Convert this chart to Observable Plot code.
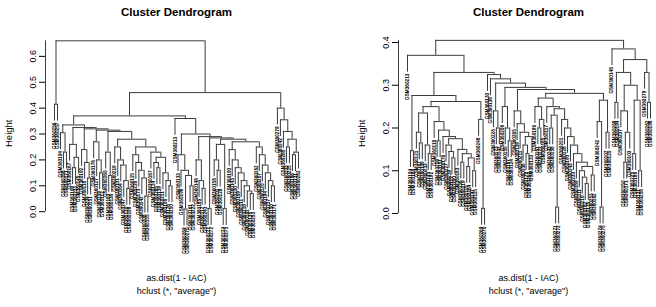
<!DOCTYPE html>
<html><head><meta charset="utf-8">
<script src="https://cdn.jsdelivr.net/npm/d3@7"></script>
<script src="https://cdn.jsdelivr.net/npm/@observablehq/plot@0.6"></script>
<style>
body{margin:0;background:#fff;}
#wrap{display:flex;width:656px;height:307px;overflow:hidden;}
svg{display:block;overflow:visible}
</style></head><body><div id="wrap"></div>
<script>
// ---- data: leaf labels (in dendrogram order) and merge height between adjacent leaves ----
const leftLabels = [360256,360257,360104,360188,360121,360167,360109,360233,360145,360192,
  360118,360204,360151,360176,360127,360239,360112,360260,360183,360136,
  360219,360101,360164,360247,360130,360198,360115,360226,360173,360142,
  360208,360155,360187,360124,360265,360139,360211,360106,360178,360250,
  360213,360133,360196,360269,360270,360161,360222,360148,360185,360117,
  360243,360271,360272,360158,360201,360128,360274,360275,360190,360143,
  360230,360169,360111,360216,360182,360135,360253,360162,360207,360120,
  360194,360237,360150,360171,360279,360242,360268,360103,360225,360186,
  360131,360262];
const leftGaps = [0.415,0.66,0.305,0.23,0.335,0.26,0.17,0.21,0.325,0.24,
  0.19,0.13,0.32,0.27,0.2,0.15,0.315,0.23,0.14,0.31,
  0.25,0.2,0.18,0.12,0.09,0.28,0.22,0.19,0.16,0.13,
  0.06,0.25,0.23,0.19,0.17,0.21,0.15,0.12,0.10,0.37,
  0.36,0.22,0.16,0.01,0.14,0.10,0.30,0.2,0.12,0.09,
  0.29,0.012,0.285,0.2,0.16,0.26,0.012,0.28,0.24,0.2,
  0.17,0.15,0.12,0.1,0.08,0.07,0.27,0.25,0.22,0.18,
  0.15,0.12,0.1,0.46,0.40,0.355,0.31,0.25,0.28,0.22,
  0.23];
const rightLabels = [360213,360104,360188,360121,360167,360109,360233,360145,360192,360118,
  360204,360151,360176,360127,360239,360112,360260,360183,360136,360219,
  360101,360164,360247,360115,360248,360269,360270,360130,360138,360226,
  360173,360142,360208,360155,360187,360124,360265,360139,360211,360106,
  360178,360250,360133,360196,360161,360222,360185,360117,360243,360158,
  360271,360272,360201,360128,360190,360143,360230,360169,360111,360216,
  360182,360135,360253,360162,360242,360274,360275,360207,360120,360148,
  360268,360194,360237,360150,360171,360103,360225,360186,360131,360256,
  360279,360262,360198];
const rightGaps = [0.37,0.147,0.276,0.19,0.165,0.235,0.16,0.14,0.25,0.215,
  0.17,0.195,0.18,0.16,0.145,0.13,0.175,0.15,0.12,0.14,
  0.11,0.13,0.10,0.262,0.22,0.012,0.33,0.325,0.315,0.24,
  0.2,0.305,0.25,0.2,0.17,0.295,0.24,0.21,0.19,0.16,
  0.14,0.18,0.29,0.25,0.2,0.22,0.27,0.25,0.20,0.23,
  0.015,0.245,0.22,0.20,0.18,0.16,0.14,0.12,0.10,0.085,
  0.07,0.11,0.09,0.281,0.215,0.015,0.265,0.19,0.405,0.385,
  0.26,0.33,0.24,0.12,0.19,0.30,0.14,0.265,0.1,0.36,
  0.33,0.26];
const leftTicks = [0, 0.1, 0.2, 0.3, 0.4, 0.5, 0.6];
const rightTicks = [0, 0.1, 0.2, 0.3, 0.4];
const titleText = "Cluster Dendrogram";
const xLabelText = "as.dist(1 - IAC)";
const subText = 'hclust (*, "average")';
const yLabelText = "Height";

function layout(labels, gaps) {
  const hang = 0.1 * (d3.max(gaps) - d3.min(gaps));
  const horiz = [], vert = [], leaves = [];
  function build(lo, hi) {
    if (lo === hi) return {leaf: true, x: lo, i: lo};
    let k = lo;
    for (let j = lo + 1; j < hi; j++) if (gaps[j] > gaps[k]) k = j;
    const L = build(lo, k), R = build(k + 1, hi);
    const h = gaps[k];
    horiz.push({x1: L.x, x2: R.x, y: h});
    for (const c of [L, R]) {
      const top = c.leaf ? h - hang : c.h;
      vert.push({x: c.x, y1: top, y2: h});
      if (c.leaf) leaves.push({x: c.x, y: top, label: "GSM" + labels[c.i]});
    }
    return {leaf: false, x: (L.x + R.x) / 2, h};
  }
  const root = build(0, labels.length - 1);
  return {horiz, vert, leaves, root};
}

function panel({labels, gaps, ticks, xr, yr, ml, mr, tdx}) {
  const n = labels.length;
  const {horiz, vert, leaves, root} = layout(labels, gaps);
  const axisX = (ml - xr[0]) / (xr[1] - xr[0]) * (n - 1);
  const line = "#3a3a3a";
  return Plot.plot({
    width: 328, height: 307,
    marginLeft: ml, marginRight: mr, marginTop: 30, marginBottom: 44,
    style: {fontFamily: "'Liberation Sans', Arial, sans-serif", background: "#fff", color: "#000"},
    x: {domain: [0, n - 1], range: xr, axis: null},
    y: {domain: [0, ticks[ticks.length - 1]], range: yr, label: null},
    marks: [
      Plot.ruleX([axisX], {x: d => d, y1: 0, y2: root.h, stroke: line}),
      Plot.axisY(ticks, {tickFormat: d => d.toFixed(1), tickRotate: -90, tickSize: 6, tickPadding: 4, fontSize: 9, label: null}),
      Plot.ruleY(horiz, {x1: "x1", x2: "x2", y: "y", stroke: line, strokeWidth: 1}),
      Plot.ruleX(vert, {x: "x", y1: "y1", y2: "y2", stroke: line, strokeWidth: 1}),
      Plot.text(leaves, {x: "x", y: "y", text: "label", rotate: -90, textAnchor: "end", dy: 1.5, fontSize: 4.7, fontWeight: "bold", fill: "#000"}),
      Plot.text([titleText], {frameAnchor: "top", dx: tdx, dy: -23, fontWeight: "bold", fontSize: 11.5}),
      Plot.text([xLabelText], {frameAnchor: "bottom", dx: tdx, dy: 17.5, fontSize: 9}),
      Plot.text([subText], {frameAnchor: "bottom", dx: tdx, dy: 30.5, fontSize: 9}),
      Plot.text([yLabelText], {frameAnchor: "left", dx: -37, rotate: -90, fontSize: 9.5})
    ]
  });
}

const wrap = document.getElementById("wrap");
wrap.appendChild(panel({labels: leftLabels, gaps: leftGaps, ticks: leftTicks,
  xr: [54, 298], yr: [211.2, 211.2 - 0.6 * 258.9], ml: 45, mr: 21, tdx: 0}));
wrap.appendChild(panel({labels: rightLabels, gaps: rightGaps, ticks: rightTicks,
  xr: [79, 322], yr: [213, 213 - 0.4 * 427.5], ml: 70, mr: 0, tdx: 1}));
</script></body></html>
